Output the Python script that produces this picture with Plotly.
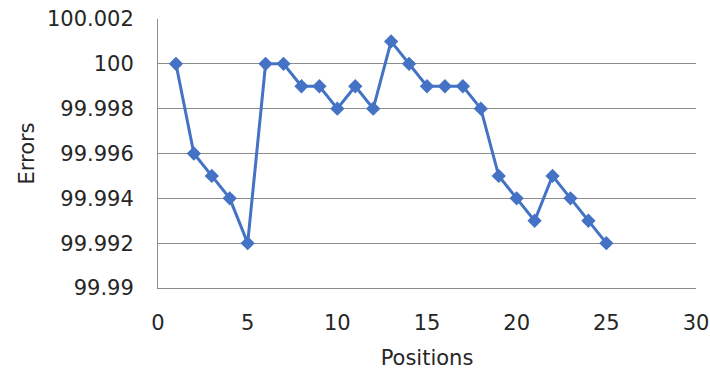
import plotly.graph_objects as go

# Error percentage measured at each position
positions = list(range(1, 26))
errors = [100, 99.996, 99.995, 99.994, 99.992,
          100, 100, 99.999, 99.999, 99.998,
          99.999, 99.998, 100.001, 100, 99.999,
          99.999, 99.999, 99.998, 99.995, 99.994,
          99.993, 99.995, 99.994, 99.993, 99.992]

y_ticks = [99.99, 99.992, 99.994, 99.996, 99.998, 100, 100.002]
y_tick_text = ["99.99", "99.992", "99.994", "99.996", "99.998", "100", "100.002"]
x_ticks = [0, 5, 10, 15, 20, 25, 30]

line_color = "#4472C4"
grid_color = "#8c8c8c"
font_family = "DejaVu Sans"

fig = go.Figure(
    go.Scatter(
        x=positions,
        y=errors,
        mode="lines+markers",
        line=dict(color=line_color, width=3),
        marker=dict(symbol="diamond", size=11, color=line_color),
        showlegend=False,
    )
)

fig.update_layout(
    width=710,
    height=371,
    margin=dict(l=158, r=14, t=19, b=83),
    paper_bgcolor="white",
    plot_bgcolor="white",
    font=dict(family=font_family, size=21, color="#262626"),
    xaxis=dict(
        range=[0, 30],
        tickvals=x_ticks,
        showgrid=False,
        zeroline=False,
        showline=True,
        linecolor=grid_color,
        linewidth=1,
        ticks="",
        automargin=False,
        ticklabelstandoff=16,
        title=dict(text="Positions", standoff=16, font=dict(size=21)),
    ),
    yaxis=dict(
        range=[99.99, 100.002],
        tickvals=y_ticks,
        ticktext=y_tick_text,
        showgrid=True,
        gridcolor=grid_color,
        gridwidth=1,
        zeroline=False,
        showline=True,
        linecolor=grid_color,
        linewidth=1,
        ticks="",
        automargin=False,
        ticklabelstandoff=19,
        title=dict(text="Errors", standoff=6, font=dict(size=21)),
    ),
)

fig.write_html("out.html")
